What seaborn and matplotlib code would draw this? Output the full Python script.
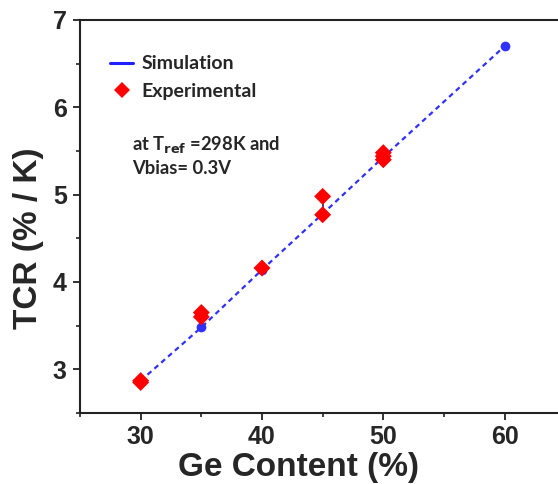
import numpy as np
import pandas as pd
import matplotlib
matplotlib.use("Agg")
import matplotlib.pyplot as plt
from matplotlib.lines import Line2D
from matplotlib.ticker import MultipleLocator
import seaborn as sns

# simulation (blue dashed line + dots)
sim_ge = [30, 35, 40, 45, 50, 60]
sim_tcr = [2.87, 3.48, 4.14, 4.78, 5.43, 6.70]

# experimental (red diamonds)
exp_ge = [30, 30, 35, 35, 40, 45, 45, 50, 50, 50]
exp_tcr = [2.85, 2.87, 3.60, 3.65, 4.16, 4.77, 4.98, 5.40, 5.44, 5.48]

# spread bar at 45 %
bar_ge = 45
bar_lo, bar_hi = 4.77, 4.98

sns.set_theme(style="ticks")
plt.rcParams["font.family"] = ["Liberation Sans", "DejaVu Sans"]

fig = plt.figure(figsize=(5.58, 4.84), dpi=100)
ax = fig.add_axes([0.1434, 0.1467, 0.8566, 0.812])

sim = pd.DataFrame({"ge": sim_ge, "tcr": sim_tcr})
exp = pd.DataFrame({"ge": exp_ge, "tcr": exp_tcr})

sns.lineplot(data=sim, x="ge", y="tcr", ax=ax, color="#3030ff",
             linestyle=(0, (2.3, 1.8)), linewidth=1.6, marker="o",
             markersize=7, markeredgewidth=0, legend=False)
ax.plot([bar_ge, bar_ge], [bar_lo, bar_hi], color="#1a237e", lw=1.2, zorder=3)
sns.scatterplot(data=exp, x="ge", y="tcr", ax=ax, color="#ff0000",
                marker="D", s=75, edgecolor="none", zorder=4, legend=False)

ax.set_xlim(25, 64.4)
ax.set_ylim(2.5, 7)
ax.xaxis.set_major_locator(MultipleLocator(10))
ax.xaxis.set_minor_locator(MultipleLocator(5))
ax.yaxis.set_major_locator(MultipleLocator(1))
ax.yaxis.set_minor_locator(MultipleLocator(0.5))
ax.tick_params(which="major", direction="out", length=5, width=1.3,
               color="#222222", labelsize=18)
ax.tick_params(axis="x", which="major", pad=4)
ax.tick_params(axis="y", which="major", pad=4.5)
ax.tick_params(which="minor", direction="out", length=3.2, width=1.2,
               color="#222222")
for lab in ax.get_xticklabels() + ax.get_yticklabels():
    lab.set_fontweight("bold")

for side in ["left", "bottom", "top"]:
    ax.spines[side].set_linewidth(1.5)
    ax.spines[side].set_color("#222222")
ax.spines["right"].set_visible(False)

ax.set_xlabel("Ge Content (%)", fontsize=24, fontweight="bold")
ax.set_ylabel("TCR (% / K)", fontsize=24, fontweight="bold")
ax.xaxis.set_label_coords(0.458, -0.1)
ax.yaxis.set_label_coords(-0.075, 0.445)

handles = [
    Line2D([], [], color="#2020ff", lw=2.2),
    Line2D([], [], color="#ff0000", marker="D", ls="none", markersize=8.5,
           markeredgewidth=0),
]
leg = ax.legend(handles, ["Simulation", "Experimental"], loc="upper left",
                bbox_to_anchor=(0.063, 0.91), frameon=False,
                borderpad=0, borderaxespad=0, handlelength=1.2,
                handletextpad=0.4, labelspacing=0.55,
                prop={"family": "Lato", "weight": "bold", "size": 14})

ax.text(0.109, 0.656, "at T$_{\\mathbf{ref}}$ =298K and\nVbias= 0.3V",
        transform=ax.transAxes, ha="left", va="center", fontsize=13.2,
        fontweight="bold", family="Lato", linespacing=1.35)

fig.savefig("out.png", dpi=100)
